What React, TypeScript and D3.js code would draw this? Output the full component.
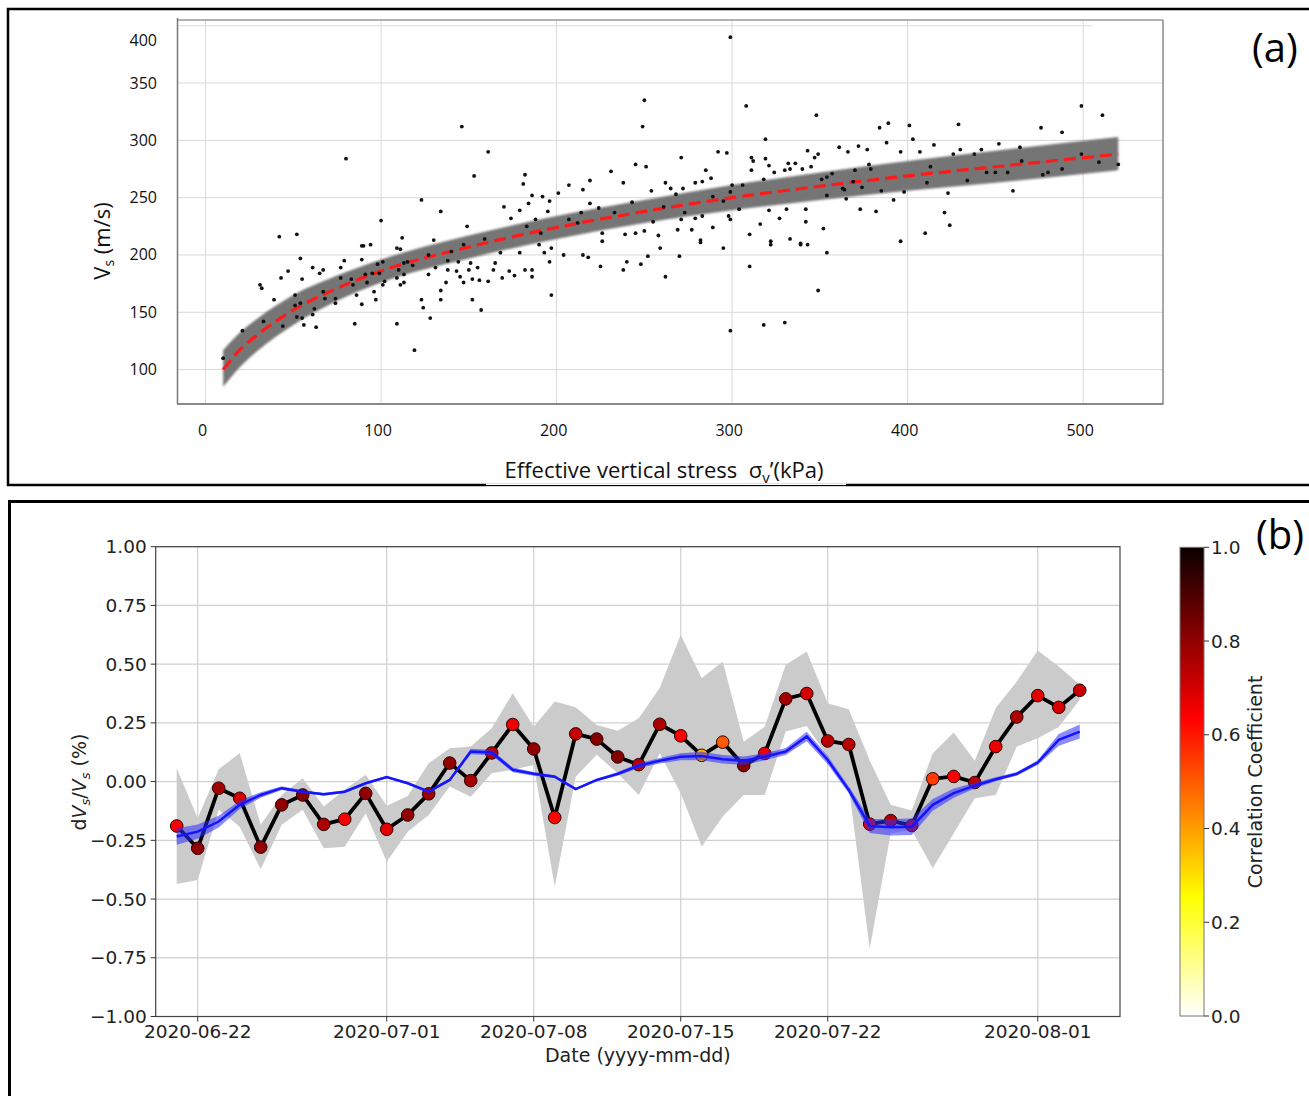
import React, { useEffect, useRef } from "react";
import * as d3 from "d3";

// ---------- panel (a): Vs against effective vertical stress ----------
const scatterStress = [
  80, 42, 52, 146, 161, 153, 123, 100, 134, 149, 250, 249, 245, 251, 231, 219, 207, 215, 201, 192,
  196, 182, 181, 238, 254, 186, 170, 184, 219, 224, 179, 195, 188, 233, 243, 214, 207, 212, 174, 183,
  191, 130, 159, 147, 112, 109, 90, 94, 245, 250, 239, 226, 197,
  299, 308, 499, 511, 348, 319, 429, 476, 488, 384, 389, 401, 403, 388, 271, 292, 297, 311, 319, 361,
  372, 377, 366, 349, 343, 415, 407, 396, 426, 430, 438, 442, 452, 464, 465, 499, 509, 520, 477, 480,
  488, 445, 450, 457, 434, 413, 411, 460, 423, 398, 392, 385, 396, 410, 421, 424, 382, 373, 365, 354,
  351, 354, 357, 370, 378, 379, 369, 363, 364, 374, 342, 342, 331, 327, 321, 316, 310, 322, 333, 339,
  343, 352, 336, 332, 340, 345, 347, 311, 312, 324, 330, 333, 318, 321, 300, 306, 299, 289, 295, 304,
  298, 299, 295, 289, 282, 277, 283, 279, 273, 271, 269, 261, 262, 265, 268, 272, 279, 283, 285, 288,
  258, 259, 255,
  270, 282, 262, 310, 322, 339, 354, 349, 299, 318, 330,
  10, 21, 31, 32, 33, 39, 43, 44, 47, 54, 55, 56, 51, 51, 52, 54, 55, 61, 62, 63,
  61, 67, 68, 74, 74, 65, 67, 77, 77, 79, 83, 84, 85, 86, 89, 89, 89, 91, 92, 95,
  97, 96, 98, 99, 101, 101, 102, 109, 109, 111, 110, 111, 113, 113, 115, 118, 113, 119, 123, 124,
  128, 127, 127, 131, 134, 134, 137, 138, 138, 140, 143, 145, 144, 147, 150, 151, 152, 152, 155, 156,
  157, 161, 164, 165, 168, 169, 173, 176, 179, 182, 186, 186, 190, 193, 196, 197, 204, 215, 218, 225,
  238, 240, 248, 252, 226,
];
const scatterVs = [
  284, 216, 218, 312, 290, 269, 248, 230, 238, 225, 335, 312, 279, 277, 273, 265, 261, 257, 254, 251,
  247, 270, 262, 263, 256, 252, 242, 245, 245, 241, 239, 238, 231, 237, 246, 237, 231, 228, 232, 225,
  219, 213, 214, 209, 215, 206, 208, 209, 219, 221, 218, 219, 206,
  390, 330, 330, 322, 322, 301, 314, 311, 307, 311, 315, 313, 301, 298, 285, 290, 289, 285, 284, 294,
  295, 292, 290, 288, 291, 296, 290, 290, 288, 292, 288, 292, 297, 294, 282, 288, 281, 279, 270, 272,
  275, 272, 272, 272, 265, 277, 263, 256, 254, 255, 248, 256, 212, 219, 237, 226, 238, 240, 249, 252,
  266, 268, 271, 274, 279, 275, 264, 258, 257, 259, 240, 229, 240, 232, 239, 227, 218, 212, 214, 210,
  209, 223, 280, 280, 275, 277, 285, 274, 282, 272, 274, 275, 266, 278, 261, 261, 255, 251, 247, 240,
  234, 231, 206, 224, 213, 222, 234, 232, 237, 231, 222, 242, 263, 258, 253, 258, 263, 264, 274, 267,
  217, 206, 229,
  199, 211, 181, 190, 209, 209, 202, 169, 134, 139, 141,
  110, 134, 174, 171, 142, 161, 180, 138, 186, 197, 179, 139, 165, 156, 146, 158, 145, 148, 153, 137,
  189, 168, 162, 162, 158, 184, 187, 180, 189, 195, 179, 174, 140, 165, 157, 196, 208, 183, 176, 184,
  161, 168, 192, 184, 194, 174, 177, 180, 140, 205, 187, 174, 176, 183, 194, 191, 193, 117, 161, 154,
  145, 183, 200, 189, 161, 169, 176, 187, 195, 203, 186, 181, 194, 176, 187, 193, 179, 161, 189, 178,
  152, 177, 187, 193, 202, 180, 186, 182, 202, 187, 187, 181, 209, 202, 194, 165, 200, 200, 198, 190,
  187, 194, 192, 199, 212,
];
// fitted power-law trend and its band
const fitStress = [10, 20, 30, 50, 75, 100, 150, 200, 250, 300, 350, 400, 450, 520];
const fitVs = [100, 118, 131, 152, 171, 186, 207, 224, 238, 250, 260, 269, 277, 288];
const fitLower = [85, 103, 117, 139, 160, 176, 197, 214, 228, 239, 248, 256, 263, 274];
const fitUpper = [117, 133, 145, 165, 182, 196, 217, 234, 248, 261, 272, 282, 291, 303];
const stressTicks = [0, 100, 200, 300, 400, 500];
const vsTicks = [100, 150, 200, 250, 300, 350, 400];

// ---------- panel (b): dVs/Vs time series ----------
const firstDay = "2020-06-21";
const lastDay = "2020-08-03";
const dvv = [
  -0.189, -0.284, -0.028, -0.071, -0.279, -0.099, -0.057, -0.182, -0.16, -0.05, -0.203, -0.142, -0.052,
  0.079, 0.004, 0.122, 0.243, 0.139, -0.153, 0.203, 0.181, 0.105, 0.072, 0.244, 0.195, 0.112, 0.168,
  0.068, 0.12, 0.352, 0.375, 0.173, 0.158, -0.181, -0.166, -0.187, 0.012, 0.022, -0.004, 0.149, 0.275,
  0.366, 0.316, 0.389,
];
const corr = [
  0.64, 0.8, 0.77, 0.7, 0.8, 0.8, 0.82, 0.76, 0.65, 0.8, 0.68, 0.8, 0.78, 0.8, 0.77, 0.74, 0.66, 0.8,
  0.63, 0.72, 0.82, 0.82, 0.74, 0.76, 0.64, 0.38, 0.5, 0.82, 0.66, 0.77, 0.7, 0.74, 0.74, 0.66, 0.74,
  0.7, 0.55, 0.64, 0.74, 0.66, 0.76, 0.68, 0.7, 0.72,
];
const spreadUpper = [
  0.057, -0.156, 0.053, 0.121, -0.184, -0.057, 0.014, -0.106, -0.035, 0.029, -0.103, -0.061, 0.078,
  0.142, 0.149, 0.227, 0.376, 0.234, 0.341, 0.317, 0.241, 0.217, 0.27, 0.398, 0.625, 0.44, 0.511,
  0.17, 0.234, 0.497, 0.554, 0.334, 0.308, 0.09, -0.099, -0.123, 0.121, 0.209, 0.089, 0.313, 0.426,
  0.558, 0.49, 0.412,
];
const spreadLower = [
  -0.436, -0.419, -0.12, -0.192, -0.373, -0.184, -0.12, -0.284, -0.277, -0.135, -0.341, -0.213, -0.142,
  -0.021, -0.064, 0.036, 0.05, 0.071, -0.447, 0.021, 0.114, 0.036, -0.057, 0.121, -0.05, -0.277,
  -0.149, -0.057, -0.057, 0.213, 0.237, 0.106, -0.021, -0.71, -0.22, -0.206, -0.369, -0.22, -0.071,
  -0.057, 0.149, 0.185, 0.232, 0.348,
];
const modelDvv = [
  -0.234, -0.213, -0.17, -0.099, -0.057, -0.028, -0.043, -0.054, -0.043, -0.007, 0.019, -0.007, -0.043,
  0.007, 0.128, 0.124, 0.05, 0.033, 0.021, -0.032, 0.007, 0.033, 0.068, 0.089, 0.106, 0.109, 0.095,
  0.089, 0.106, 0.128, 0.192, 0.092, -0.035, -0.189, -0.194, -0.192, -0.099, -0.049, -0.017, 0.01,
  0.033, 0.081, 0.178, 0.213,
];
const modelErr = [
  0.035, 0.03, 0.025, 0.018, 0.012, 0.008, 0.006, 0.006, 0.006, 0.005, 0.005, 0.005, 0.006, 0.006,
  0.012, 0.012, 0.01, 0.008, 0.006, 0.005, 0.005, 0.008, 0.01, 0.012, 0.015, 0.018, 0.018, 0.018,
  0.015, 0.015, 0.02, 0.018, 0.015, 0.03, 0.035, 0.035, 0.025, 0.02, 0.012, 0.008, 0.008, 0.01,
  0.025, 0.03,
];
const dateTicks = ["2020-06-22", "2020-07-01", "2020-07-08", "2020-07-15", "2020-07-22", "2020-08-01"];
const dvvTicks = [1, 0.75, 0.5, 0.25, 0, -0.25, -0.5, -0.75, -1];
const corrTicks = [0, 0.2, 0.4, 0.6, 0.8, 1];

// matplotlib hot_r
const hotR = d3
  .scaleLinear<string>()
  .domain([0, 0.254, 0.635, 1])
  .range(["#ffffff", "#ffff00", "#ff0000", "#0b0000"])
  .interpolate(d3.interpolateRgb);

type Sel = d3.Selection<SVGSVGElement, unknown, null, undefined>;

function drawPanelA(svg: Sel) {
  const xA = d3.scaleLinear().domain([-16, 545.5]).range([177.5, 1163]);
  const yA = d3.scaleLinear().domain([70, 405]).range([404, 20]);
  const g = svg.append("g").style("font-family", "'Open Sans', sans-serif");

  // outer box
  g.append("rect").attr("x", 8).attr("y", 9).attr("width", 1340).attr("height", 476)
    .attr("fill", "none").attr("stroke", "#000").attr("stroke-width", 2.5);
  g.append("line").attr("x1", 486).attr("x2", 846).attr("y1", 485).attr("y2", 485)
    .attr("stroke", "#fff").attr("stroke-width", 3);
  g.append("line").attr("x1", 486).attr("x2", 846).attr("y1", 485.5).attr("y2", 485.5)
    .attr("stroke", "#000").attr("stroke-width", 1);

  // grid
  g.selectAll(".vg").data(stressTicks).join("line").attr("class", "vg")
    .attr("x1", (d) => xA(d)).attr("x2", (d) => xA(d)).attr("y1", 20).attr("y2", 404)
    .attr("stroke", "#d9d9d9").attr("stroke-width", 1);
  g.selectAll(".hg").data(vsTicks).join("line").attr("class", "hg")
    .attr("x1", 177.5).attr("x2", (d) => (d === 400 ? xA(505) : 1163)).attr("y1", (d) => yA(d)).attr("y2", (d) => yA(d))
    .attr("stroke", "#d9d9d9").attr("stroke-width", 1);

  // band + trend
  const idx = d3.range(fitStress.length);
  const defs = svg.append("defs");
  defs.append("filter").attr("id", "soft").append("feGaussianBlur").attr("stdDeviation", 0.8);
  const area = d3.area<number>()
    .x((i) => xA(fitStress[i])).y0((i) => yA(fitLower[i])).y1((i) => yA(fitUpper[i]))
    .curve(d3.curveMonotoneX);
  g.append("path").attr("d", area(idx)).attr("fill", "#757575").attr("filter", "url(#soft)");

  const line = d3.line<number>().x((i) => xA(fitStress[i])).y((i) => yA(fitVs[i])).curve(d3.curveMonotoneX);
  g.append("path").attr("d", line(idx)).attr("fill", "none").attr("stroke", "#ff1a1a")
    .attr("stroke-width", 3.2).attr("stroke-dasharray", "12,6");

  g.selectAll(".pt").data(scatterStress).join("circle").attr("class", "pt")
    .attr("cx", (d) => xA(d)).attr("cy", (_d, i) => yA(scatterVs[i])).attr("r", 1.9).attr("fill", "#111");

  // frame
  g.append("line").attr("x1", 177.5).attr("x2", 1163).attr("y1", 20).attr("y2", 20).attr("stroke", "#9a9a9a").attr("stroke-width", 1.5);
  g.append("line").attr("x1", 1163).attr("x2", 1163).attr("y1", 20).attr("y2", 404).attr("stroke", "#8a8a8a").attr("stroke-width", 1.5);
  g.append("line").attr("x1", 177.5).attr("x2", 177.5).attr("y1", 18).attr("y2", 404).attr("stroke", "#777").attr("stroke-width", 1.5);
  g.append("line").attr("x1", 177).attr("x2", 1163.5).attr("y1", 404).attr("y2", 404).attr("stroke", "#8a8a8a").attr("stroke-width", 2);

  // tick labels
  g.selectAll(".xl").data(stressTicks).join("text").attr("class", "xl")
    .attr("x", (d) => xA(d) - 3).attr("y", 436).attr("text-anchor", "middle")
    .attr("font-size", 16).attr("fill", "#111").text((d) => d);
  g.selectAll(".yl").data(vsTicks).join("text").attr("class", "yl")
    .attr("x", 157).attr("y", (d) => Math.max(yA(d), 40) + 5.5).attr("text-anchor", "end")
    .attr("font-size", 16).attr("fill", "#111").text((d) => d);

  // axis titles
  const xt = g.append("text").attr("x", 664).attr("y", 478).attr("text-anchor", "middle")
    .attr("font-size", 22).attr("fill", "#111");
  xt.append("tspan").text("Effective vertical stress \u00a0σ");
  xt.append("tspan").attr("font-size", 15).attr("dy", 5).text("v");
  xt.append("tspan").attr("dy", -5).text("’(kPa)");

  const yt = g.append("text").attr("transform", "translate(110,241) rotate(-90)")
    .attr("text-anchor", "middle").attr("font-size", 22).attr("fill", "#111");
  yt.append("tspan").text("V");
  yt.append("tspan").attr("font-size", 14).attr("dy", 4).text("s");
  yt.append("tspan").attr("dy", -4).text(" (m/s)");

  g.append("text").attr("x", 1252).attr("y", 62).attr("font-size", 40).attr("fill", "#000").text("(a)");
}

function drawPanelB(svg: Sel) {
  const days = d3.utcDay.range(new Date(firstDay + "T00:00Z"), d3.utcDay.offset(new Date(lastDay + "T00:00Z"), 1));
  const xB = d3.scaleUtc()
    .domain([new Date("2020-06-20T00:00Z"), new Date("2020-08-04T22:00Z")])
    .range([155.7, 1120]);
  const yB = d3.scaleLinear().domain([-1, 1]).range([1016.5, 546.7]);
  const L = 155.7, R = 1120, T = 546.7, B = 1016.5;
  const g = svg.append("g").style("font-family", "'DejaVu Sans', sans-serif");

  g.append("rect").attr("x", 9.5).attr("y", 501.5).attr("width", 1340).attr("height", 700)
    .attr("fill", "none").attr("stroke", "#000").attr("stroke-width", 3);

  // grid
  g.selectAll(".bvg").data(dateTicks).join("line").attr("class", "bvg")
    .attr("x1", (d) => xB(new Date(d + "T00:00Z"))).attr("x2", (d) => xB(new Date(d + "T00:00Z")))
    .attr("y1", T).attr("y2", B).attr("stroke", "#cfcfcf").attr("stroke-width", 1.2);
  g.selectAll(".bhg").data(dvvTicks).join("line").attr("class", "bhg")
    .attr("x1", L).attr("x2", R).attr("y1", (d) => yB(d)).attr("y2", (d) => yB(d))
    .attr("stroke", "#cfcfcf").attr("stroke-width", 1.2);

  const idx = d3.range(days.length);
  const spread = d3.area<number>().x((i) => xB(days[i])).y0((i) => yB(spreadLower[i])).y1((i) => yB(spreadUpper[i]));
  g.append("path").attr("d", spread(idx)).attr("fill", "#cbcbcb");

  const obs = d3.line<number>().x((i) => xB(days[i])).y((i) => yB(dvv[i]));
  g.append("path").attr("d", obs(idx)).attr("fill", "none").attr("stroke", "#000").attr("stroke-width", 3.8)
    .attr("stroke-linejoin", "round");
  g.selectAll(".mk").data(idx).join("circle").attr("class", "mk")
    .attr("cx", (i) => xB(days[i])).attr("cy", (i) => yB(dvv[i])).attr("r", 6.3)
    .attr("fill", (i) => hotR(corr[i])).attr("stroke", "#2a0000").attr("stroke-width", 1);

  const mband = d3.area<number>().x((i) => xB(days[i]))
    .y0((i) => yB(modelDvv[i] - modelErr[i])).y1((i) => yB(modelDvv[i] + modelErr[i]));
  g.append("path").attr("d", mband(idx)).attr("fill", "#2b2bff").attr("opacity", 0.55);
  const mline = d3.line<number>().x((i) => xB(days[i])).y((i) => yB(modelDvv[i]));
  g.append("path").attr("d", mline(idx)).attr("fill", "none").attr("stroke", "#1414ff").attr("stroke-width", 2.5);

  // frame and ticks
  g.append("rect").attr("x", L).attr("y", T).attr("width", R - L).attr("height", B - T)
    .attr("fill", "none").attr("stroke", "#444").attr("stroke-width", 1.2);
  g.selectAll(".bxt").data(dateTicks).join("line").attr("class", "bxt")
    .attr("x1", (d) => xB(new Date(d + "T00:00Z"))).attr("x2", (d) => xB(new Date(d + "T00:00Z")))
    .attr("y1", B).attr("y2", B + 5).attr("stroke", "#333");
  g.selectAll(".bxl").data(dateTicks).join("text").attr("class", "bxl")
    .attr("x", (d) => xB(new Date(d + "T00:00Z"))).attr("y", B + 21).attr("text-anchor", "middle")
    .attr("font-size", 18.5).attr("fill", "#222").text((d) => d);
  g.selectAll(".byt").data(dvvTicks).join("line").attr("class", "byt")
    .attr("x1", L - 5).attr("x2", L).attr("y1", (d) => yB(d)).attr("y2", (d) => yB(d)).attr("stroke", "#333");
  g.selectAll(".byl").data(dvvTicks).join("text").attr("class", "byl")
    .attr("x", L - 9).attr("y", (d) => yB(d) + 6.5).attr("text-anchor", "end")
    .attr("font-size", 18.5).attr("fill", "#222").text((d) => d3.format(".2f")(d).replace("-", "−"));

  g.append("text").attr("x", (L + R) / 2).attr("y", 1062).attr("text-anchor", "middle")
    .attr("font-size", 19).attr("fill", "#222").text("Date (yyyy-mm-dd)");

  const yt = g.append("text").attr("transform", "translate(86,782) rotate(-90)")
    .attr("text-anchor", "middle").attr("font-size", 19).attr("fill", "#222");
  yt.append("tspan").text("d");
  yt.append("tspan").attr("font-style", "italic").text("V");
  yt.append("tspan").attr("font-style", "italic").attr("font-size", 13).attr("dy", 4).text("s");
  yt.append("tspan").attr("dy", -4).text("/");
  yt.append("tspan").attr("font-style", "italic").text("V");
  yt.append("tspan").attr("font-style", "italic").attr("font-size", 13).attr("dy", 4).text("s");
  yt.append("tspan").attr("dy", -4).text(" (%)");

  // colorbar
  const cb = d3.scaleLinear().domain([0, 1]).range([1016, 547.3]);
  const grad = svg.select("defs").append("linearGradient").attr("id", "hotr")
    .attr("x1", 0).attr("y1", 0).attr("x2", 0).attr("y2", 1);
  [1, 0.635, 0.254, 0].forEach((c) => {
    grad.append("stop").attr("offset", 1 - c).attr("stop-color", hotR(c));
  });
  g.append("rect").attr("x", 1180).attr("y", cb(1)).attr("width", 24).attr("height", cb(0) - cb(1))
    .attr("fill", "url(#hotr)").attr("stroke", "#777").attr("stroke-width", 1);
  g.selectAll(".ct").data(corrTicks).join("line").attr("class", "ct")
    .attr("x1", 1204).attr("x2", 1209).attr("y1", (d) => cb(d)).attr("y2", (d) => cb(d)).attr("stroke", "#333");
  g.selectAll(".cl").data(corrTicks).join("text").attr("class", "cl")
    .attr("x", 1211).attr("y", (d) => cb(d) + 6.5).attr("font-size", 18.5).attr("fill", "#222")
    .text((d) => d3.format(".1f")(d));
  g.append("text").attr("transform", "translate(1262,782) rotate(-90)").attr("text-anchor", "middle")
    .attr("font-size", 19).attr("fill", "#222").text("Correlation Coefficient");

  g.append("text").attr("x", 1256).attr("y", 549).attr("font-size", 40)
    .style("font-family", "'Open Sans', sans-serif").attr("fill", "#000").text("(b)");
}

export default function App() {
  const svgRef = useRef<SVGSVGElement | null>(null);

  useEffect(() => {
    if (!svgRef.current) return;
    const svg = d3.select(svgRef.current) as Sel;
    svg.selectAll("*").remove();
    drawPanelA(svg);
    drawPanelB(svg);
  }, []);

  return (
    <svg
      ref={svgRef}
      width={1309}
      height={1096}
      style={{ position: "absolute", left: 0, top: 0, background: "#fff" }}
    />
  );
}
